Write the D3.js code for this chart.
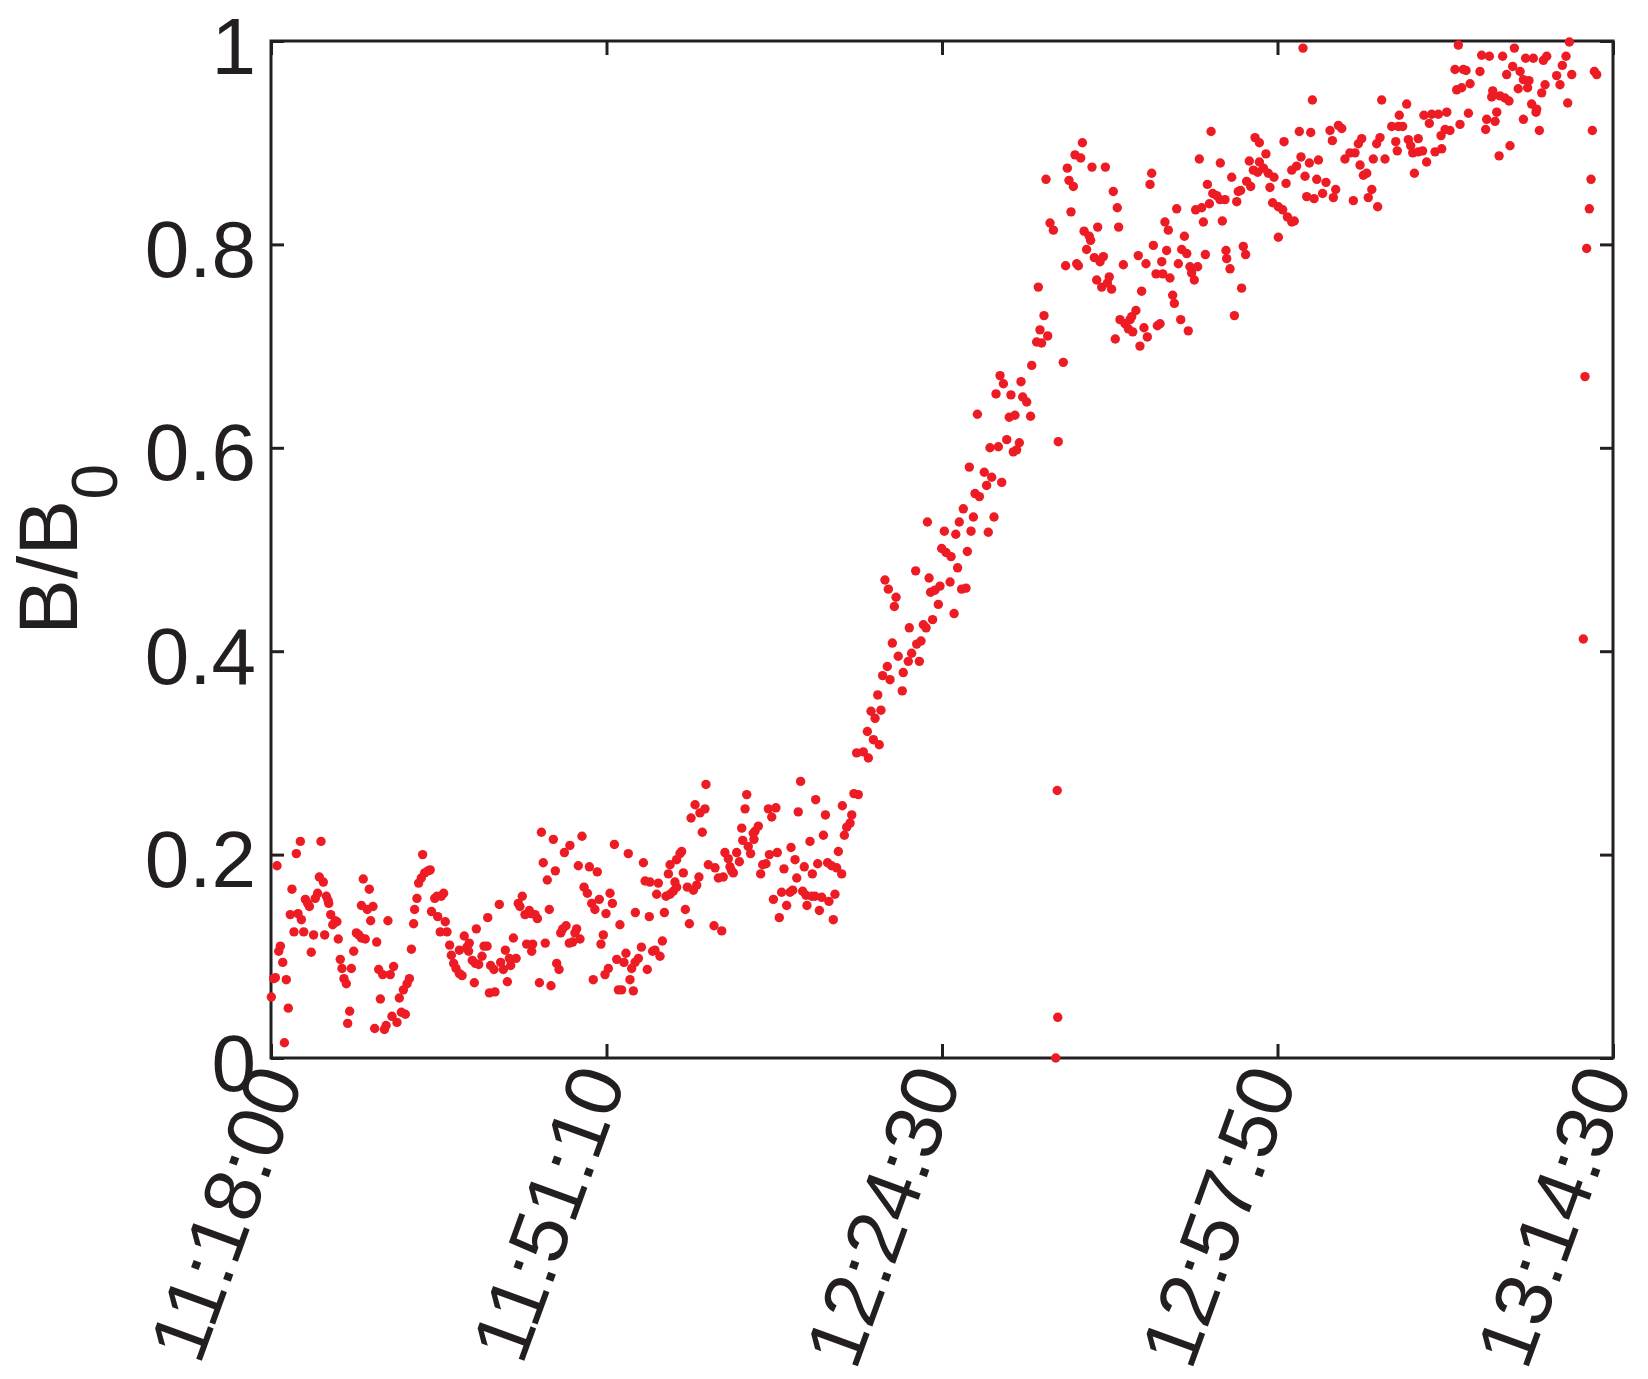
<!DOCTYPE html>
<html><head><meta charset="utf-8">
<script src="https://cdn.jsdelivr.net/npm/d3@7/dist/d3.min.js"></script>
<style>
html,body{margin:0;padding:0;background:#fff;}
svg{display:block;}
text{font-family:"Liberation Sans",Arial,Helvetica,sans-serif;fill:#231f20;}
</style></head><body>
<svg id="chart" width="1648" height="1379"></svg>
<script>
// [sample index, B/B0]
const points = [
[0.2,.060],[1.6,.078],[2.6,.079],[3.6,.189],[4.6,.105],[5.6,.110],[7.0,.094],[8.0,.015],[9.1,.077],[10.3,.049],[11.5,.141],[12.5,.166],[13.7,.124],[15.1,.201],[16.1,.142],[17.5,.213],[18.1,.136],[19.5,.124],[20.5,.156],[21.9,.152],[22.9,.149],[24.0,.104],[25.4,.121],[26.4,.157],[27.8,.162],[28.8,.178],[29.8,.213],[31.2,.173],[32.0,.121],[33.0,.159],[34.0,.155],[34.4,.152],[35.6,.141],[36.8,.131],[38.3,.135],[39.3,.134],[40.1,.117],[41.3,.097],[42.3,.088],[43.5,.078],[44.9,.073],[45.7,.034],[46.9,.046],[47.9,.088],[49.3,.105],[50.9,.123],[52.3,.121],[53.9,.118],[56.2,.117],[53.9,.150],[55.0,.176],[57.4,.146],[58.6,.166],[59.4,.135],[60.8,.149],[61.8,.029],[63.0,.114],[64.2,.087],[65.2,.058],[66.6,.082],[67.6,.028],[68.6,.032],[69.7,.135],[71.1,.082],[72.1,.041],[73.1,.090],[75.1,.035],[76.5,.059],[77.7,.045],[80.1,.043],[78.9,.067],[81.1,.073],[82.5,.078],[83.7,.107],[85.0,.132],[85.6,.146],[87.0,.157],[88.0,.172],[89.6,.177],[90.4,.200],[91.6,.182],[93.6,.184],[94.9,.185],[95.7,.144],[97.6,.157],[98.9,.159],[101.5,.159],[102.9,.162],[99.4,.139],[100.9,.124],[104.9,.124],[103.9,.134],[106.5,.111],[107.5,.101],[108.9,.093],[110.3,.088],[112.3,.083],[113.9,.081],[112.3,.106],[115.2,.120],[116.8,.109],[118.2,.113],[117.8,.105],[120.0,.096],[121.2,.074],[121.8,.093],[122.4,.127],[123.8,.092],[125.8,.100],[127.0,.110],[128.8,.110],[129.2,.138],[130.2,.064],[130.9,.091],
[133.5,.065],[132.9,.087],[136.1,.151],[136.9,.094],[138.5,.087],[139.7,.106],[140.9,.075],[142.1,.098],[142.9,.091],[144.5,.118],[146.1,.098],[147.4,.152],[148.4,.149],[149.8,.159],[151.4,.141],[154.0,.145],[154.8,.142],[157.4,.141],[158.8,.137],[152.4,.112],[156.0,.112],[155.4,.105],[160.0,.074],[161.2,.222],[162.3,.192],[163.5,.113],[164.7,.175],[165.9,.146],[166.9,.071],[168.3,.215],[169.5,.184],[170.3,.093],[171.7,.087],[172.7,.123],[173.9,.127],[175.9,.130],[174.9,.202],[178.2,.209],[177.8,.113],[179.8,.114],[181.2,.123],[182.2,.127],[183.2,.189],[184.2,.117],[185.4,.218],[186.6,.168],[188.6,.162],[189.8,.188],[191.2,.152],[193.1,.146],[192.1,.077],[194.5,.183],[195.7,.156],[196.7,.112],[198.1,.121],[199.7,.142],[201.1,.088],[199.1,.082],[202.1,.162],[203.5,.152],[204.7,.210],[206.1,.097],[207.1,.067],[209.0,.067],[208.0,.131],[210.4,.094],[211.6,.103],[213.0,.201],[214.0,.077],[215.0,.088],[217.0,.094],[219.0,.098],[216.0,.066],[217.2,.143],[220.8,.109],[222.0,.192],[223.0,.174],[225.9,.173],[230.9,.172],[224.3,.087],[225.5,.139],[227.5,.105],[228.9,.106],[229.9,.161],[231.9,.100],[233.3,.115],[234.5,.143],[235.5,.159],[237.9,.161],[239.8,.164],[241.8,.168],[240.8,.173],[236.9,.181],[237.9,.190],[241.8,.195],[243.8,.201],[244.8,.203],[245.8,.182],[247.0,.146],[248.2,.168],[251.8,.165],[253.8,.170],[255.1,.178],[249.4,.132],[250.4,.236],[252.8,.249],[255.7,.241],[258.7,.245],[257.1,.222],[259.3,.269],[260.7,.190],
[264.7,.187],[264.1,.130],[268.7,.125],[266.7,.177],[269.6,.178],[270.6,.202],[272.6,.196],[274.6,.184],[273.6,.188],[275.6,.182],[277.6,.202],[279.2,.193],[280.6,.226],[281.2,.214],[284.5,.208],[285.9,.201],[282.6,.245],[283.6,.259],[287.5,.221],[288.5,.223],[290.5,.228],[287.9,.215],[291.9,.181],[293.1,.190],[295.1,.191],[297.1,.200],[301.8,.202],[296.5,.245],[298.5,.237],[301.0,.246],[299.5,.156],[303.0,.138],[304.4,.163],[309.4,.163],[311.0,.165],[305.8,.186],[307.4,.150],[310.0,.207],[312.4,.195],[313.4,.177],[314.3,.242],[315.7,.272],[316.9,.164],[318.9,.160],[322.3,.159],[324.3,.159],[328.3,.158],[317.9,.188],[319.5,.150],[321.3,.213],[322.7,.181],[324.7,.254],[325.9,.191],[326.9,.145],[329.3,.219],[330.5,.239],[331.8,.192],[334.2,.189],[337.2,.187],[340.2,.181],[332.6,.154],[335.2,.136],[336.2,.161],[338.2,.203],[340.6,.248],[341.8,.219],[343.2,.227],[345.2,.231],[346.2,.239],[347.5,.260],[350.1,.259],[349.1,.300],[353.1,.301],[356.1,.295],[359.1,.313],
[355.5,.321],[362.6,.308],[357.7,.341],[360.1,.334],[363.6,.342],[361.7,.357],[376.3,.361],[364.6,.376],[369.0,.372],[367.4,.385],[373.9,.395],[376.9,.379],[379.9,.390],[381.9,.398],[384.9,.407],[387.5,.410],[370.4,.408],[380.5,.423],[386.5,.390],[388.9,.426],[390.5,.423],[394.4,.431],[366.0,.470],[368.0,.461],[372.6,.453],[371.6,.444],[384.3,.479],[392.3,.472],[393.2,.458],[395.8,.460],[398.8,.464],[397.8,.446],[404.8,.468],[407.2,.437],[409.3,.482],[411.7,.461],[414.3,.462],[399.8,.501],[402.4,.497],[405.4,.493],[415.1,.498],[391.3,.527],[401.4,.518],[408.2,.515],[410.3,.527],[412.7,.540],[417.3,.518],[418.7,.532],[427.6,.517],[431.0,.532],[419.7,.555],[422.3,.552],[416.3,.581],[425.2,.576],[429.6,.571],[426.6,.563],[435.6,.566],[421.1,.633],[428.6,.600],[433.6,.601],[438.6,.608],[442.5,.596],[444.5,.598],[446.1,.605],[440.1,.630],[443.5,.632],[432.2,.653],[441.1,.652],[448.1,.650],[450.5,.645],[452.8,.631],[434.6,.671],[436.6,.663],[447.1,.665],[453.5,.681],[469.3,.606],[468.7,.263],[469.0,.040],[467.8,.000],
[457.4,.758],[460.8,.730],[458.4,.716],[456.4,.704],[459.4,.703],[463.0,.710],[472.3,.684],[462.0,.864],[464.4,.821],[466.4,.814],[474.7,.875],[475.7,.863],[478.3,.857],[476.9,.832],[479.3,.888],[482.7,.885],[483.7,.900],[489.4,.876],[497.4,.876],[484.7,.813],[487.8,.808],[488.6,.804],[492.8,.817],[486.2,.795],[490.8,.787],[494.2,.783],[496.2,.788],[473.7,.779],[480.3,.781],[481.3,.779],[492.2,.765],[495.2,.758],[499.7,.768],[501.1,.756],[498.6,.762],[502.1,.852],[504.5,.836],[505.3,.817],[508.1,.780],[503.3,.707],[506.1,.726],[509.1,.722],[512.1,.726],[513.7,.714],[511.1,.717],[513.1,.729],[515.6,.735],[518.0,.700],[519.0,.754],[517.0,.789],[520.4,.718],[522.4,.709],[521.6,.781],[524.0,.859],[525.0,.870],[526.0,.799],[527.6,.771],[531.6,.771],[528.4,.720],[530.0,.722],[531.0,.783],[533.9,.794],[532.9,.822],[534.9,.814],[535.9,.767],[537.5,.750],[538.5,.742],[539.9,.835],[540.9,.781],[542.3,.726],[542.9,.795],[545.9,.791],[544.5,.808],[546.8,.715],[547.8,.778],[548.8,.772],[550.4,.765],[551.2,.834],[554.8,.836],[552.4,.778],[553.4,.884],[555.8,.822],[557.0,.790],[558.2,.859],[559.4,.840],[561.4,.850],[563.8,.848],[565.7,.844],[568.7,.844],[560.4,.911],[565.9,.880],[567.1,.823],[569.3,.794],[569.7,.786],[571.7,.776],[572.7,.866],[574.3,.730],[575.7,.842],[576.6,.852],[578.0,.853],[578.6,.757],[579.6,.798],[581.0,.790],[581.6,.862],[584.0,.857],[583.2,.882],[586.6,.905],[585.6,.873],[588.2,.871],[589.2,.881],
[589.2,.900],[593.1,.889],[591.6,.875],[594.5,.870],[597.9,.866],[595.5,.856],[597.1,.841],[600.5,.837],[603.1,.834],[605.9,.827],[608.5,.822],[610.0,.823],[600.5,.807],[603.9,.901],[605.1,.860],[608.5,.873],[611.4,.877],[613.0,.911],[614.0,.886],[616.4,.867],[617.4,.847],[621.8,.845],[619.0,.880],[619.8,.910],[623.4,.864],[628.9,.861],[624.4,.883],[626.9,.850],[633.3,.846],[631.3,.912],[636.3,.917],[638.3,.914],[632.7,.902],[634.7,.854],[620.8,.942],[615.2,.993],[640.2,.884],[643.2,.890],[646.2,.890],[645.2,.843],[648.2,.899],[650.2,.904],[649.2,.878],[651.2,.868],[653.2,.870],[654.1,.846],[656.2,.854],[657.1,.884],[659.1,.899],[661.1,.905],[659.7,.837],[662.1,.942],[664.1,.884],[668.1,.916],[672.0,.916],[674.6,.916],[672.6,.927],[677.0,.938],[670.5,.901],[671.4,.892],[678.0,.903],[679.4,.897],[680.6,.890],[683.9,.891],[686.5,.892],[681.6,.870],[683.9,.904],[687.3,.927],[691.9,.928],[695.9,.928],[700.9,.930],[688.9,.881],[690.5,.919],[693.9,.891],[697.9,.894],[697.5,.907],[699.9,.913],
[702.8,.912],[707.8,.996],[705.8,.972],[710.8,.972],[712.4,.971],[706.8,.952],[709.8,.954],[714.8,.958],[708.8,.918],[713.8,.929],[720.7,.970],[721.7,.986],[726.3,.985],[724.7,.923],[729.7,.921],[724.1,.913],[728.3,.951],[727.7,.945],[732.6,.946],[735.6,.944],[738.0,.941],[730.7,.930],[732.1,.887],[734.2,.985],[736.6,.967],[738.6,.897],[740.2,.975],[741.2,.993],[743.5,.953],[744.6,.970],[746.6,.962],[749.9,.961],[749.1,.954],[746.6,.923],[747.9,.983],[752.5,.983],[751.5,.938],[754.5,.933],[754.1,.930],[756.1,.912],[757.5,.949],[758.5,.981],[760.5,.985],[759.5,.957],[766.4,.966],[768.4,.957],[769.8,.976],[772.0,.985],[773.0,.939],[774.0,.999],[775.4,.967],[782.3,.412],[783.3,.670],[784.3,.796],[785.9,.835],[786.9,.864],[787.7,.912],[788.9,.970],[790.3,.967]
];
const xTickIndex = [0, 200, 400, 600, 800];
const xTickLabels = ["11:18:00", "11:51:10", "12:24:30", "12:57:50", "13:14:30"];
const yTicks = [0, 0.2, 0.4, 0.6, 0.8, 1];
const yTickLabels = ["0", "0.2", "0.4", "0.6", "0.8", "1"];
const yLabelMain = "B/B";
const yLabelSub = "0";

const L = 271, R = 1613, T = 41, B = 1058;
const ink = "#231f20", red = "#ed1c24";
const svg = d3.select("#chart");
const x = d3.scaleLinear().domain([0, 800]).range([L, R]);
const y = d3.scaleLinear().domain([0, 1]).range([B, T]);

function styleAxis(g) {
  g.select(".domain").remove();
  g.selectAll(".tick line").attr("stroke", ink).attr("stroke-width", 3);
}
// bottom axis
const gb = svg.append("g").attr("transform", `translate(0,${B})`)
  .call(d3.axisBottom(x).tickValues(xTickIndex).tickFormat((d, i) => xTickLabels[i])
    .tickSizeInner(-14).tickSizeOuter(0));
styleAxis(gb);
gb.selectAll(".tick text")
  .attr("x", 0).attr("y", 0).attr("dy", null)
  .attr("transform", (d, i) => `translate(${i === 0 ? 7 : -6},12) rotate(-70)`)
  .attr("text-anchor", "end").attr("dominant-baseline", "central")
  .attr("fill", ink).style("font-size", "80px")
  .style("font-family", '"Liberation Sans",Arial,sans-serif');
// top axis
const gt = svg.append("g").attr("transform", `translate(0,${T})`)
  .call(d3.axisTop(x).tickValues(xTickIndex).tickFormat("").tickSizeInner(-14).tickSizeOuter(0));
styleAxis(gt);
// left axis
const gl = svg.append("g").attr("transform", `translate(${L},0)`)
  .call(d3.axisLeft(y).tickValues(yTicks).tickFormat((d, i) => yTickLabels[i])
    .tickSizeInner(-13).tickSizeOuter(0).tickPadding(15));
styleAxis(gl);
gl.selectAll(".tick text").attr("fill", ink).attr("dy", "0.40em").style("font-size", "80px")
  .style("font-family", '"Liberation Sans",Arial,sans-serif');
// right axis
const gr = svg.append("g").attr("transform", `translate(${R},0)`)
  .call(d3.axisRight(y).tickValues(yTicks).tickFormat("").tickSizeInner(-13).tickSizeOuter(0));
styleAxis(gr);
// box
svg.append("rect").attr("x", L).attr("y", T).attr("width", R - L).attr("height", B - T)
  .attr("fill", "none").attr("stroke", ink).attr("stroke-width", 3);

// y label
const yl = svg.append("text").attr("transform", `translate(77,${(T + B) / 2}) rotate(-90)`)
  .attr("text-anchor", "middle").style("font-size", "84px");
yl.append("tspan").text(yLabelMain);
yl.append("tspan").attr("dy", 40).style("font-size", "64px").text(yLabelSub);

// points
svg.append("g").selectAll("circle").data(points).join("circle")
  .attr("cx", d => x(d[0])).attr("cy", d => y(d[1])).attr("r", 4.7).attr("fill", red);
</script>
</body></html>
